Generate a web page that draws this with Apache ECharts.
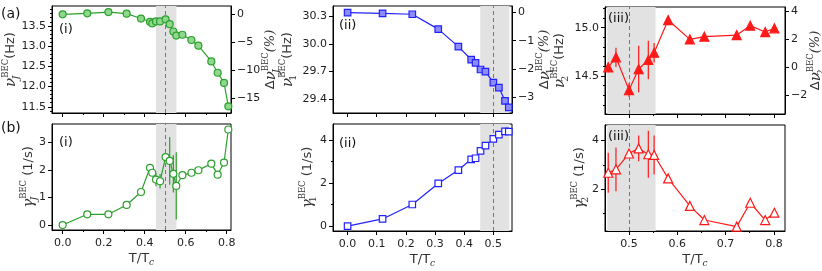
<!DOCTYPE html>
<html><head><meta charset="utf-8">
<script src="https://cdn.jsdelivr.net/npm/echarts@6/dist/echarts.min.js"></script>
<style>html,body{margin:0;padding:0;background:#fff}#c{width:822px;height:271px}</style>
</head><body><div id="c"></div>
<script>
// ---------- data ----------
const tI = [0, 0.120, 0.223, 0.312, 0.382, 0.426, 0.437, 0.455, 0.475, 0.502, 0.522, 0.540, 0.554, 0.584, 0.628, 0.662, 0.725, 0.756, 0.787, 0.808];
const nuJ = [13.785, 13.809, 13.841, 13.80, 13.68, 13.60, 13.56, 13.61, 13.61, 13.66, 13.54, 13.36, 13.26, 13.28, 13.15, 13.01, 12.62, 12.34, 12.09, 11.51];
const gammaJ = [0, 0.39, 0.39, 0.73, 1.2, 2.08, 1.9, 1.65, 1.59, 2.47, 2.33, 1.86, 1.42, 1.81, 1.9, 1.99, 2.23, 1.83, 2.27, 3.47];
const gammaJErr = [0, 0, 0, 0, 0, 0, 0, 0.24, 0.26, 0.1, 0.87, 0.68, 1.22, 0, 0, 0, 0, 0, 0, 0];

const tII = [0, 0.120, 0.222, 0.311, 0.380, 0.424, 0.439, 0.456, 0.473, 0.500, 0.519, 0.540, 0.553];
const nu1 = [30.336, 30.328, 30.318, 30.158, 29.969, 29.830, 29.795, 29.723, 29.699, 29.581, 29.528, 29.385, 29.314];
const gamma1 = [0.0, 0.33, 1.0, 1.98, 2.6, 3.1, 3.15, 3.49, 3.74, 4.05, 4.25, 4.40, 4.39];

const tIII = [0.457, 0.473, 0.500, 0.520, 0.540, 0.552, 0.581, 0.626, 0.656, 0.723, 0.751, 0.782, 0.801];
const nu2 = [14.590, 14.693, 14.355, 14.572, 14.666, 14.741, 15.079, 14.879, 14.907, 14.924, 15.021, 14.955, 14.993];
const nu2Err = [0.05, 0.1, 0.07, 0.24, 0.2, 0.1, 0, 0, 0, 0, 0, 0, 0];
const gamma2 = [2.68, 2.82, 3.47, 3.68, 3.44, 3.41, 2.45, 1.32, 0.74, 0.47, 1.45, 0.74, 1.04];
const gamma2Err = [0.82, 0.9, 0.1, 0.53, 0.96, 0.8, 0, 0, 0, 0, 0, 0, 0];

const shadeRange = [0.455, 0.555];
const dashT = 0.5;

// tick labels
const ticksXI = [0, 0.2, 0.4, 0.6, 0.8];
const minorXI = [0.1, 0.3, 0.5, 0.7];
const ticksXII = [0, 0.1, 0.2, 0.3, 0.4, 0.5];
const ticksXIII = [0.5, 0.6, 0.7, 0.8];
const minorXIII = [0.55, 0.65, 0.75];
const ticksNuJ = [11.5, 12.0, 12.5, 13.0, 13.5];
const ticksDNuJ = [-15, -10, -5, 0];
const ticksGammaJ = [0, 1, 2, 3];
const ticksNu1 = [29.4, 29.7, 30.0, 30.3];
const ticksDNu1 = [-3, -2, -1, 0];
const ticksGamma1 = [0, 2, 4];
const ticksNu2 = [14.5, 15.0];
const ticksDNu2 = [-2, 0, 2, 4];
const ticksGamma2 = [2, 4];

// reference frequencies for relative shift axes
const nuJ0 = nuJ[0], nu10 = nu1[0], nu20 = nu2[0];

// ---------- layout ----------
const grids = [
  {left: 52, top: 6, width: 179, height: 107},
  {left: 52, top: 124, width: 179, height: 106},
  {left: 333, top: 6, width: 179, height: 107},
  {left: 333, top: 124, width: 179, height: 107},
  {left: 605, top: 7, width: 180, height: 107},
  {left: 605, top: 125, width: 180, height: 106}
];
const FONT = 'DejaVu Sans';
const SERIF = 'DejaVu Serif';
const GREEN = '#2ca02c', BLUE = '#2222ff', RED = '#ff1a1a';
const NC = '#333';

function range(a, b, s) { const r = []; for (let v = a; v <= b + 1e-9; v += s) r.push(+v.toFixed(4)); return r; }
function fmt(v, d) { return v.toFixed(d).replace('-', '\u2212'); }

const nameRich = {
  g: {fontFamily: SERIF, fontStyle: 'italic', fontSize: 15, color: NC, verticalAlign: 'middle'},
  sub: {fontFamily: SERIF, fontStyle: 'italic', fontSize: 10, color: NC, verticalAlign: 'bottom', width: 0},
  subr: {fontFamily: SERIF, fontSize: 10, color: NC, verticalAlign: 'bottom', width: 0},
  sup: {fontFamily: SERIF, fontSize: 8.5, color: NC, verticalAlign: 'top'},
  u: {fontFamily: FONT, fontSize: 13, color: NC, verticalAlign: 'middle'},
  ui: {fontFamily: SERIF, fontStyle: 'italic', fontSize: 13, color: NC, verticalAlign: 'middle'},
  c: {fontFamily: SERIF, fontStyle: 'italic', fontSize: 9, color: NC, verticalAlign: 'bottom'}
};

const xAxes = [], yAxes = [];
function addX(gi, min, max, majors, minors, dec, labels, name) {
  const i = xAxes.length;
  xAxes.push({
    type: 'value', gridIndex: gi, min, max, position: 'bottom',
    axisLine: {show: true, onZero: false, lineStyle: {color: '#000', width: 1}},
    axisTick: {show: true, length: 4, customValues: majors, lineStyle: {color: '#000', width: 1}},
    axisLabel: {show: labels, customValues: majors, formatter: v => fmt(v, dec), margin: 8, fontSize: 11, color: '#222', fontFamily: FONT},
    splitLine: {show: false},
    name: name || '', nameLocation: 'middle', nameGap: 21, nameMoveOverlap: false,
    nameTextStyle: {rich: nameRich, lineHeight: 16}
  });
  if (minors && minors.length) {
    xAxes.push({
      type: 'value', gridIndex: gi, min, max, position: 'bottom',
      axisLine: {show: false, onZero: false},
      axisTick: {show: true, length: 2, customValues: minors, lineStyle: {color: '#000', width: 1}},
      axisLabel: {show: false}, splitLine: {show: false}
    });
  }
  return i;
}
function addY(gi, min, max, majors, minors, dec, pos, name, gap) {
  const i = yAxes.length;
  yAxes.push({
    type: 'value', gridIndex: gi, min, max, position: pos,
    axisLine: {show: true, onZero: false, lineStyle: {color: '#000', width: 1}},
    axisTick: {show: true, length: 4, customValues: majors, lineStyle: {color: '#000', width: 1}},
    axisLabel: {show: true, customValues: majors, formatter: v => fmt(v, dec), margin: 6, fontSize: 11, color: '#222', fontFamily: FONT},
    splitLine: {show: false},
    name, nameLocation: 'middle', nameGap: gap, nameRotate: 90, nameMoveOverlap: false,
    nameTextStyle: {rich: nameRich, lineHeight: 20}
  });
  if (minors && minors.length) {
    yAxes.push({
      type: 'value', gridIndex: gi, min, max, position: pos,
      axisLine: {show: false, onZero: false},
      axisTick: {show: true, length: 2, customValues: minors, lineStyle: {color: '#000', width: 1}},
      axisLabel: {show: false}, splitLine: {show: false}
    });
  }
  return i;
}
const rel = (v, v0) => (v / v0 - 1) * 100;
const notMajor = (arr, majors) => arr.filter(v => !majors.some(t => Math.abs(t - v) < 1e-6));

// panel (a)(i)
const xA1 = addX(0, -0.052, 0.821, ticksXI, minorXI, 1, false);
const yA1 = addY(0, 11.346, 13.99, ticksNuJ, notMajor(range(11.4, 13.9, 0.1), ticksNuJ), 1, 'left', '{g|ν}{sub|J}{sup|BEC}{u|(Hz)}', 31);
addY(0, rel(11.346, nuJ0), rel(13.99, nuJ0), ticksDNuJ, null, 0, 'right', '{u|Δ}{g|ν}{sub|J}{sup|BEC}{ui|(%)}', 30);
// panel (b)(i)
const xB1 = addX(1, -0.052, 0.821, ticksXI, minorXI, 1, true, '{u|T/T}{c|c}');
const yB1 = addY(1, -0.18, 3.67, ticksGammaJ, null, 0, 'left', '{g|γ}{sub|J}{sup|BEC}{u| (1/s)}', 13);
// panel (a)(ii)
const xA2 = addX(2, -0.05, 0.564, ticksXII, null, 1, false);
const yA2 = addY(2, 29.254, 30.407, ticksNu1, null, 1, 'left', '{g|ν}{subr|1}{sup|BEC}{u|(Hz)}', 35);
addY(2, rel(29.254, nu10), rel(30.407, nu10), ticksDNu1, null, 0, 'right', '{u|Δ}{g|ν}{subr|1}{sup|BEC}{ui|(%)}', 23);
// panel (b)(ii)
const xB2 = addX(3, -0.05, 0.564, ticksXII, null, 1, true, '{u|T/T}{c|c}');
const yB2 = addY(3, -0.23, 4.74, ticksGamma1, [1, 3], 0, 'left', '{g|γ}{subr|1}{sup|BEC}{u| (1/s)}', 15);
// panel (a)(iii)
const xA3 = addX(4, 0.4503, 0.823, ticksXIII, minorXIII, 1, false);
const yA3 = addY(4, 14.107, 15.214, ticksNu2, notMajor(range(14.2, 15.2, 0.1), ticksNu2), 1, 'left', '{g|ν}{subr|2}{sup|BEC}{u|(Hz)}', 35);
addY(4, rel(14.107, nu20), rel(15.214, nu20), ticksDNu2, null, 0, 'right', '{u|Δ}{g|ν}{subr|2}{sup|BEC}{ui|(%)}', 21);
// panel (b)(iii)
const xB3 = addX(5, 0.4503, 0.823, ticksXIII, minorXIII, 1, true, '{u|T/T}{c|c}');
const yB3 = addY(5, 0.29, 4.64, ticksGamma2, [1, 3], 0, 'left', '{g|γ}{subr|2}{sup|BEC}{u| (1/s)}', 15);

const series = [];
function shade(xi, yi) {
  series.push({
    type: 'line', xAxisIndex: xi, yAxisIndex: yi, data: [], z: 1, silent: true,
    markArea: {silent: true, itemStyle: {color: '#e2e2e2'}, data: [[{xAxis: shadeRange[0]}, {xAxis: shadeRange[1]}]]},
    markLine: {silent: true, symbol: ['none', 'none'], label: {show: false},
      lineStyle: {color: '#777', type: [4, 3], width: 1}, data: [{xAxis: dashT}]}
  });
}
function line(xi, yi, t, v, color, fill, symbol, size) {
  series.push({
    type: 'line', xAxisIndex: xi, yAxisIndex: yi, z: 5,
    data: t.map((x, i) => [x, v[i]]),
    symbol, symbolSize: size, showSymbol: true,
    lineStyle: {color, width: 1.2},
    itemStyle: {color: fill, borderColor: color, borderWidth: 1.2}
  });
}
function errs(xi, yi, t, v, e, color) {
  const d = [];
  t.forEach((x, i) => { if (e[i] > 0) d.push([x, v[i] - e[i], v[i] + e[i]]); });
  series.push({
    type: 'custom', xAxisIndex: xi, yAxisIndex: yi, z: 4, data: d,
    renderItem: (params, api) => {
      const p1 = api.coord([api.value(0), api.value(1)]);
      const p2 = api.coord([api.value(0), api.value(2)]);
      return {type: 'line', shape: {x1: p1[0], y1: p1[1], x2: p2[0], y2: p2[1]}, style: {stroke: color, lineWidth: 1.2}};
    }
  });
}
shade(xA1, yA1); line(xA1, yA1, tI, nuJ, GREEN, '#8fd68f', 'circle', 7);
shade(xB1, yB1); errs(xB1, yB1, tI, gammaJ, gammaJErr, GREEN); line(xB1, yB1, tI, gammaJ, GREEN, '#fff', 'circle', 7);
shade(xA2, yA2); line(xA2, yA2, tII, nu1, BLUE, '#8c8cff', 'rect', 6.5);
shade(xB2, yB2); line(xB2, yB2, tII, gamma1, BLUE, '#fff', 'rect', 6.5);
shade(xA3, yA3); errs(xA3, yA3, tIII, nu2, nu2Err, RED); line(xA3, yA3, tIII, nu2, RED, RED, 'triangle', 9);
shade(xB3, yB3); errs(xB3, yB3, tIII, gamma2, gamma2Err, RED); line(xB3, yB3, tIII, gamma2, RED, '#fff', 'triangle', 9);

const txt = (x, y, s, size) => ({type: 'text', left: x, top: y, z: 100, style: {text: s, fontSize: size, fontFamily: FONT, fill: '#111'}});

const chart = echarts.init(document.getElementById('c'), null, {renderer: 'canvas'});
chart.setOption({
  animation: false,
  backgroundColor: '#fff',
  grid: grids.map(g => Object.assign({show: true, borderColor: '#000', borderWidth: 1, backgroundColor: 'transparent', containLabel: false, outerBoundsMode: 'none'}, g)),
  xAxis: xAxes, yAxis: yAxes, series,
  graphic: [
    txt(1, 7, '(a)', 14), txt(1, 121, '(b)', 14),
    txt(59, 23, '(i)', 13), txt(59, 136, '(i)', 13),
    txt(339, 19, '(ii)', 13), txt(339, 137, '(ii)', 13),
    txt(608, 12, '(iii)', 13), txt(608, 130, '(iii)', 13)
  ]
});
</script>
</body></html>
